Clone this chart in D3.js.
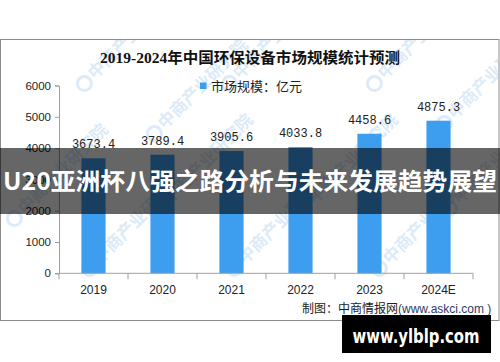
<!DOCTYPE html>
<html>
<head>
<meta charset="utf-8">
<script src="https://cdn.jsdelivr.net/npm/d3@7/dist/d3.min.js"></script>
<style>
  html, body { margin: 0; padding: 0; background: #fff; }
  svg { display: block; }
</style>
</head>
<body>
<div class="chart"></div>
<script>
// data
const years = ["2019", "2020", "2021", "2022", "2023", "2024E"];
const marketSize = [3673.4, 3789.4, 3905.6, 4033.8, 4458.6, 4875.3];
const yTickValues = [0, 1000, 2000, 3000, 4000, 5000, 6000];

const titleText = "2019-2024年中国环保设备市场规模统计预测";
const legendText = "市场规模：亿元";
const bannerText = "U20亚洲杯八强之路分析与未来发展趋势展望";
const watermarkText = "中商产业研究院";

const width = 500, height = 362;
const marginLeft = 59, marginTop = 85.5;
const chartWidth = 473 - marginLeft;
const chartHeight = 273.3 - marginTop;

const svg = d3.select(".chart").append("svg")
  .attr("width", width)
  .attr("height", height);

// frame
svg.append("rect")
  .attr("x", 0.5).attr("y", 39.5)
  .attr("width", 498.5).attr("height", 281)
  .attr("fill", "#fff")
  .attr("stroke", "#8c8c8c");

svg.append("clipPath").attr("id", "frameClip")
  .append("rect")
  .attr("x", 1).attr("y", 40).attr("width", 497.5).attr("height", 280);

// faint watermarks, kept inside the frame
const wm = svg.append("g").attr("class", "watermarks").attr("clip-path", "url(#frameClip)");
const wmSpots = [[95, 80], [240, 80], [385, 80], [25, 215], [170, 205], [315, 205], [460, 205], [100, 265], [245, 265], [390, 265], [165, 130], [455, 120]];
wmSpots.forEach(p => {
  const w = wm.append("g").attr("transform", `translate(${p[0]},${p[1]}) rotate(-45)`);
  w.append("circle").attr("cx", -10).attr("cy", -5).attr("r", 7)
    .attr("fill", "none").attr("stroke", "#a9cdee").attr("stroke-width", 3).attr("opacity", 0.4);
  w.append("text")
    .attr("x", 0).attr("y", 0)
    .attr("font-family", "'Noto Sans CJK SC', sans-serif")
    .attr("font-size", 17).attr("font-weight", "bold")
    .attr("fill", "#a9cdee").attr("opacity", 0.4)
    .text(watermarkText);
});

// title
svg.append("text")
  .attr("x", 250).attr("y", 63)
  .attr("text-anchor", "middle")
  .attr("font-family", "'Liberation Serif', 'Noto Sans CJK SC', serif")
  .attr("font-size", 15).attr("font-weight", "bold")
  .attr("fill", "#111")
  .attr("textLength", 300).attr("lengthAdjust", "spacingAndGlyphs")
  .text(titleText);

// legend
svg.append("rect")
  .attr("x", 200).attr("y", 82.5).attr("width", 6.5).attr("height", 6.5)
  .attr("fill", "#3d9ef0");
svg.append("text")
  .attr("x", 211).attr("y", 90.5)
  .attr("font-family", "'Noto Sans CJK SC', sans-serif")
  .attr("font-size", 13)
  .attr("fill", "#222")
  .text(legendText);

// scales
const x = d3.scaleBand().domain(years).range([0, chartWidth]).paddingInner(0.65).paddingOuter(0.325);
const y = d3.scaleLinear().domain([0, 6000]).range([chartHeight, 0]);

const g = svg.append("g").attr("transform", `translate(${marginLeft},${marginTop})`);

// bars
g.selectAll(".bar")
  .data(marketSize)
  .enter().append("rect")
  .attr("class", "bar")
  .attr("x", (d, i) => x(years[i]))
  .attr("y", d => y(d))
  .attr("width", x.bandwidth())
  .attr("height", d => chartHeight - y(d))
  .attr("fill", "#3d9ef0");

// value labels
g.selectAll(".val")
  .data(marketSize)
  .enter().append("text")
  .attr("class", "val")
  .attr("x", (d, i) => x(years[i]) + x.bandwidth() / 2)
  .attr("y", d => y(d) - 10)
  .attr("text-anchor", "middle")
  .attr("font-family", "'Liberation Mono', monospace")
  .attr("font-size", 12)
  .attr("fill", "#222")
  .text(d => d.toFixed(1));

// y axis
const yAxis = g.append("g")
  .attr("class", "y axis")
  .call(d3.axisLeft(y).tickValues(yTickValues).tickSize(4).tickPadding(4).tickFormat(d3.format("d")));
yAxis.selectAll("text")
  .attr("font-family", "'Liberation Sans', sans-serif")
  .attr("font-size", 11.5).attr("fill", "#222");
yAxis.select(".domain").attr("stroke", "#a0a0a0");
yAxis.selectAll(".tick line").attr("stroke", "#a0a0a0");

// x axis: ticks sit on band edges, labels in the middle
const edges = d3.range(years.length + 1).map(i => i * x.step());
const xAxis = g.append("g")
  .attr("class", "x axis")
  .attr("transform", `translate(0,${chartHeight})`);
xAxis.append("line")
  .attr("x1", 0).attr("x2", chartWidth)
  .attr("stroke", "#a0a0a0");
xAxis.selectAll(".edge")
  .data(edges)
  .enter().append("line")
  .attr("x1", d => d).attr("x2", d => d)
  .attr("y1", 0).attr("y2", 6)
  .attr("stroke", "#a0a0a0");
xAxis.selectAll(".lbl")
  .data(years)
  .enter().append("text")
  .attr("x", d => x(d) + x.bandwidth() / 2)
  .attr("y", 21)
  .attr("text-anchor", "middle")
  .attr("font-family", "'Liberation Sans', sans-serif")
  .attr("font-size", 12)
  .attr("fill", "#222")
  .text(d => d);

// source note
const src = svg.append("text")
  .attr("x", 302).attr("y", 313)
  .attr("font-family", "'Noto Sans CJK SC', sans-serif")
  .attr("font-size", 12)
  .attr("fill", "#222");
src.append("tspan").text("制图：中商情报网");
src.append("tspan")
  .attr("font-family", "'Liberation Sans', sans-serif")
  .attr("fill", "#2d3a66")
  .text("(www.askci.com )");

// dark banner across the middle
svg.append("rect")
  .attr("x", 0).attr("y", 148)
  .attr("width", width).attr("height", 66)
  .attr("fill", "#000").attr("opacity", 0.6);
svg.append("text")
  .attr("x", 250).attr("y", 190)
  .attr("text-anchor", "middle")
  .attr("font-family", "'Noto Sans CJK SC', sans-serif")
  .attr("font-size", 24).attr("font-weight", "bold")
  .attr("fill", "#fff")
  .attr("textLength", 494).attr("lengthAdjust", "spacingAndGlyphs")
  .text(bannerText);

// site stamp bottom right
svg.append("rect")
  .attr("x", 342).attr("y", 315)
  .attr("width", 149).attr("height", 38)
  .attr("fill", "#000");
svg.append("text")
  .attr("x", 416).attr("y", 343)
  .attr("text-anchor", "middle")
  .attr("font-family", "'DejaVu Sans', sans-serif")
  .attr("font-size", 20).attr("font-weight", "bold")
  .attr("fill", "#fff")
  .attr("textLength", 127).attr("lengthAdjust", "spacingAndGlyphs")
  .text("www.ylblp.com");
</script>
</body>
</html>
